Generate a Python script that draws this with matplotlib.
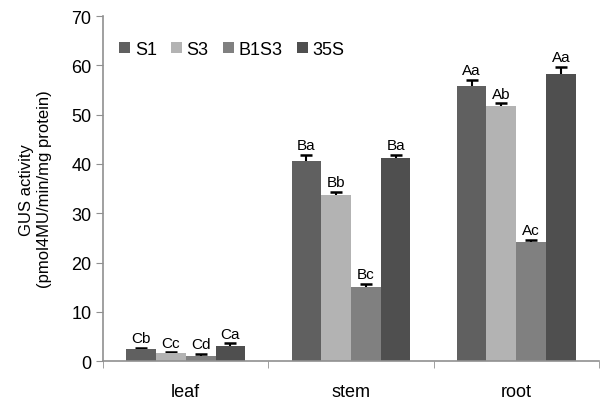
import matplotlib.pyplot as plt
import numpy as np

plt.rcParams['font.family'] = ['Liberation Sans', 'DejaVu Sans']

tissues = ['leaf', 'stem', 'root']
constructs = ['S1', 'S3', 'B1S3', '35S']
colors = ['#606060', '#b3b3b3', '#808080', '#4f4f4f']

# GUS activity per construct, order: leaf, stem, root
means = {
    'S1':   [2.4, 40.7, 55.8],
    'S3':   [1.6, 33.7, 51.8],
    'B1S3': [1.0, 15.1, 24.2],
    '35S':  [3.0, 41.3, 58.2],
}
errs = {
    'S1':   [0.3, 1.2, 1.2],
    'S3':   [0.2, 0.7, 0.5],
    'B1S3': [0.5, 0.5, 0.4],
    '35S':  [0.6, 0.5, 1.5],
}
letters = {
    'S1':   ['Cb', 'Ba', 'Aa'],
    'S3':   ['Cc', 'Bb', 'Ab'],
    'B1S3': ['Cd', 'Bc', 'Ac'],
    '35S':  ['Ca', 'Ba', 'Aa'],
}

fig = plt.figure(figsize=(6, 4.06), dpi=100)
ax = fig.add_axes([0.172, 0.108, 0.826, 0.85])

x = np.arange(len(tissues)) + 0.5
w = 0.18
for i, c in enumerate(constructs):
    xs = x + (i - 1.5) * w
    ax.bar(xs, means[c], w, color=colors[i], label=c, zorder=2)
    # symmetric bars drawn behind, so only the upper half shows
    ax.errorbar(xs, means[c], yerr=errs[c], fmt='none', ecolor='black',
                elinewidth=1.5, capsize=4, capthick=1.8, zorder=1)
    for xi, m, e, t in zip(xs, means[c], errs[c], letters[c]):
        ax.annotate(t, (xi, m + e), xytext=(0, 2), textcoords='offset points',
                    ha='center', va='bottom', fontsize=11)

ax.set_xlim(0, 3)
ax.set_ylim(0, 70)
ax.set_yticks(range(0, 71, 10))
ax.set_xticks(x)
ax.set_xticklabels(tissues)
ax.set_xticks([0, 1, 2, 3], minor=True)
ax.tick_params(axis='x', which='major', length=0, pad=16, labelsize=13)
ax.tick_params(axis='x', which='minor', length=5, color='#909090', direction='out')
ax.tick_params(axis='y', length=5, color='#909090', labelsize=13, direction='out')

for s in ['top', 'right']:
    ax.spines[s].set_visible(False)
for s in ['left', 'bottom']:
    ax.spines[s].set_color('#909090')
    ax.spines[s].set_linewidth(1.2)

ax.set_ylabel('GUS activity\n(pmol4MU/min/mg protein)', fontsize=12, labelpad=14)

ax.legend(loc='upper left', ncol=4, frameon=False, fontsize=13,
          handlelength=0.6, handleheight=0.6, handletextpad=0.25,
          columnspacing=0.8, bbox_to_anchor=(0.0, 0.975))

fig.savefig('out.png', dpi=100)
